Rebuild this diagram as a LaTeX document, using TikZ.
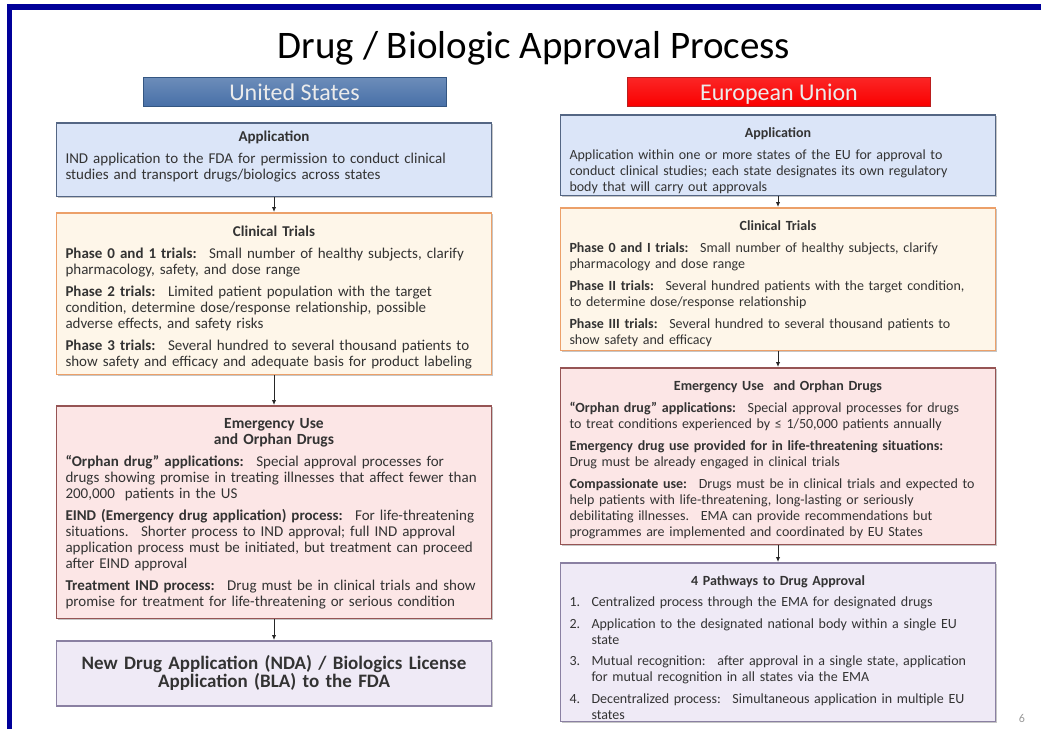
\documentclass[tikz,border=0pt]{standalone}
\usepackage{fontspec}
\setmainfont{Carlito}
\usetikzlibrary{positioning,shadows,arrows.meta}

\definecolor{frameblue}{RGB}{0,0,153}
\definecolor{appfill}{RGB}{219,229,248}
\definecolor{appline}{RGB}{84,102,132}
\definecolor{trialfill}{RGB}{254,246,233}
\definecolor{trialline}{RGB}{236,160,105}
\definecolor{emerfill}{RGB}{252,230,230}
\definecolor{emerline}{RGB}{150,84,84}
\definecolor{pathfill}{RGB}{239,234,246}
\definecolor{pathline}{RGB}{138,128,162}
\definecolor{usbar}{RGB}{72,112,168}
\definecolor{usline}{RGB}{52,86,130}
\definecolor{eubar}{RGB}{250,0,0}
\definecolor{euline}{RGB}{185,30,30}

\tikzset{panel/.style={draw, line width=1.5pt, text width=417pt, inner xsep=9pt, inner ysep=8pt,
           align=left, text=black!80, font=\fontsize{15}{16}\selectfont,
           drop shadow={opacity=.45, shadow xshift=1.5pt, shadow yshift=-1.5pt}},
         eupanel/.style={font=\fontsize{14}{16}\selectfont},
         bluepanel/.style={panel, fill=appfill, draw=appline},
         orangepanel/.style={panel, fill=trialfill, draw=trialline},
         pinkpanel/.style={panel, fill=emerfill, draw=emerline},
         lilacpanel/.style={panel, fill=pathfill, draw=pathline},
         bar/.style={minimum width=303pt, minimum height=29pt, inner sep=0pt, line width=1pt,
           text height=17pt, text depth=0pt, text=white!92!black, font=\fontsize{24}{24}\selectfont},
         flow/.style={-{Latex[length=5pt,width=4.5pt]}, line width=1pt, black!85},}
\newcommand{\panelbody}[3][5pt]{\vbox to #2{\setlength{\parskip}{6pt}\vskip\dimexpr#1-6pt\relax#3\vfil}}
\newcommand{\panelhead}[1]{{\centering\bfseries #1\par}}
\newcommand{\pathitem}[2]{\hangindent=22pt\hangafter=1\noindent\makebox[22pt][l]{#1}#2\par}
\newcommand{\conn}[2]{\draw[flow] (#1) -- (#2);}

\begin{document}
\begin{tikzpicture}[x=1pt,y=-1pt]
        \useasboundingbox (0,0) rectangle (1041,729);
        \draw[frameblue, line width=5.5pt, line join=miter] (9.5,729) -- (9.5,7) -- (1041,7);

        \node (title) at (534,48) {\fontsize{39}{40}\selectfont Drug / Biologic Approval Process};
        \node[bar, draw=usline, top color=usbar!80!white, bottom color=usbar] (us) at (294.5,91.5) {United States};
        \node[bar, draw=euline, top color=eubar!85!white, bottom color=eubar] (eu) at (779,91.5) {European Union};

        % United States
        \node[bluepanel, anchor=north] (usapp) at (274,122) {\panelbody[0pt]{57.5pt}{%
            \panelhead{Application}
            IND application to the FDA for permission to conduct clinical\\
            studies and transport drugs/biologics across states}};
        \node[orangepanel] (ustrials) [below=15pt of usapp] {\panelbody{145.5pt}{%
            \panelhead{Clinical Trials}
            \textbf{Phase 0 and 1 trials:}~ Small number of healthy subjects, clarify\\
            pharmacology, safety, and dose range\par
            \textbf{Phase 2 trials:}~ Limited patient population with the target\\
            condition, determine dose/response relationship, possible\\
            adverse effects, and safety risks\par
            \textbf{Phase 3 trials:}~ Several hundred to several thousand patients to\\
            show safety and efficacy and adequate basis for product labeling}};
        \node[pinkpanel] (usemer) [below=30pt of ustrials] {\panelbody{196.5pt}{%
            \panelhead{\fontsize{15.5}{16}\selectfont Emergency Use\\ and Orphan Drugs}
            \textbf{“Orphan drug” applications:}~ Special approval processes for\\
            drugs showing promise in treating illnesses that affect fewer than\\
            200,000 \ patients in the US\par
            \textbf{EIND (Emergency drug application) process:}~ For life-threatening\\
            situations.~ Shorter process to IND approval; full IND approval\\
            application process must be initiated, but treatment can proceed\\
            after EIND approval\par
            \textbf{Treatment IND process:}~ Drug must be in clinical trials and show\\
            promise for treatment for life-threatening or serious condition}};
        \node[lilacpanel, minimum height=65pt, align=center, inner ysep=4pt,
              font=\fontsize{19}{17}\selectfont\bfseries] (usnda) [below=21pt of usemer]
            {New Drug Application (NDA) / Biologics License\\ Application (BLA) to the FDA};

        % European Union
        \node[bluepanel, eupanel, anchor=north] (euapp) at (778,114) {\panelbody{64.5pt}{%
            \panelhead{Application}
            Application within one or more states of the EU for approval to\\
            conduct clinical studies; each state designates its own regulatory\\
            body that will carry out approvals}};
        \node[orangepanel, eupanel] (eutrials) [below=11pt of euapp] {\panelbody{126.5pt}{%
            \panelhead{Clinical Trials}
            \textbf{Phase 0 and I trials:}~ Small number of healthy subjects, clarify\\
            pharmacology and dose range\par
            \textbf{Phase II trials:}~ Several hundred patients with the target condition,\\
            to determine dose/response relationship\par
            \textbf{Phase III trials:}~ Several hundred to several thousand patients to\\
            show safety and efficacy}};
        \node[pinkpanel, eupanel] (euemer) [below=16pt of eutrials] {\panelbody{160.5pt}{%
            \panelhead{Emergency Use \ and Orphan Drugs}
            \textbf{“Orphan drug” applications:}~ Special approval processes for drugs\\
            to treat conditions experienced by ≤ 1/50,000 patients annually\par
            \textbf{Emergency drug use provided for in life-threatening situations:}\\
            Drug must be already engaged in clinical trials\par
            \textbf{Compassionate use:}~ Drugs must be in clinical trials and expected to\\
            help patients with life-threatening, long-lasting or seriously\\
            debilitating illnesses.~ EMA can provide recommendations but\\
            programmes are implemented and coordinated by EU States}};
        \node[lilacpanel, eupanel] (eupath) [below=17pt of euemer] {\panelbody{142.5pt}{%
            \setlength{\parskip}{5.5pt}%
            \panelhead{4 Pathways to Drug Approval}
            \pathitem{1.}{Centralized process through the EMA for designated drugs}
            \pathitem{2.}{Application to the designated national body within a single EU\newline state}
            \pathitem{3.}{Mutual recognition:~ after approval in a single state, application\newline for mutual recognition in all states via the EMA}
            \pathitem{4.}{Decentralized process:~ Simultaneous application in multiple EU\newline states}}};

        \node[text=black!40, font=\fontsize{12}{12}\selectfont] (pagenum) at (1022,718) {6};

        \conn{usapp}{ustrials}
        \conn{ustrials}{usemer}
        \conn{usemer}{usnda}
        \conn{euapp}{eutrials}
        \conn{eutrials}{euemer}
        \conn{euemer}{eupath}
    \end{tikzpicture}
\end{document}
